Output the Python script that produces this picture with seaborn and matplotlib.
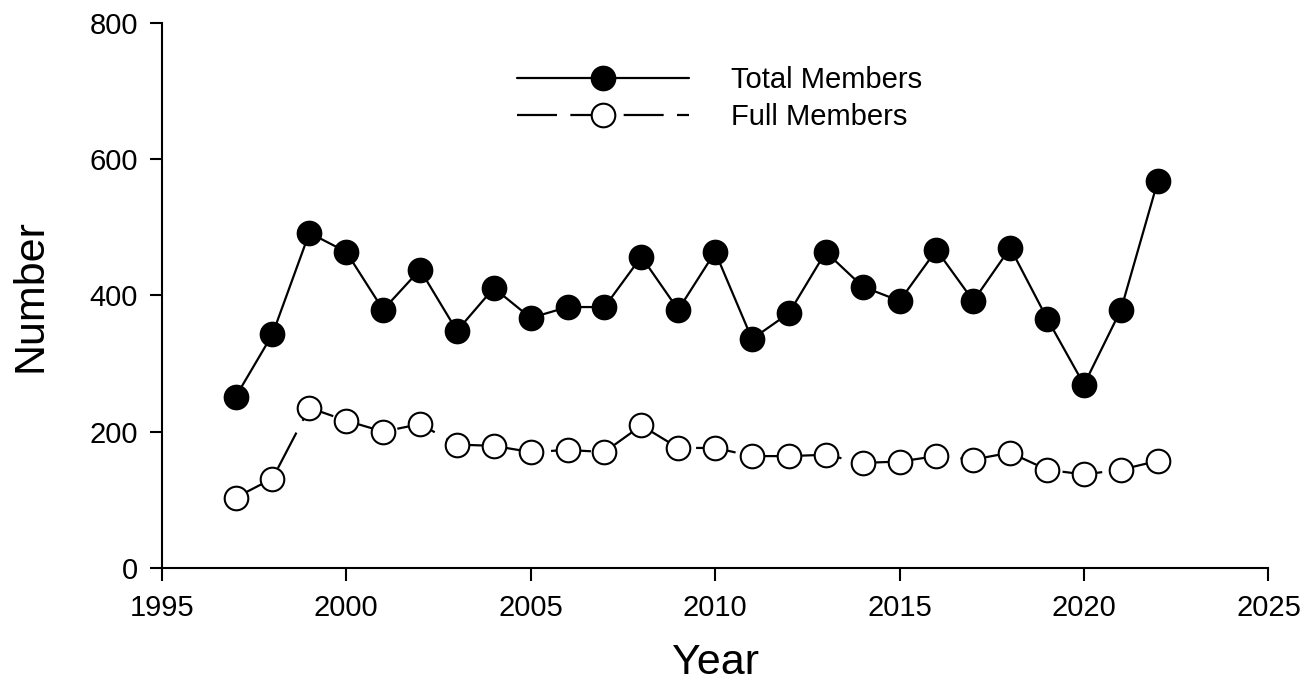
import pandas as pd
import matplotlib.pyplot as plt
import seaborn as sns

sns.set_theme(style="ticks")
plt.rcParams['font.family'] = ['Liberation Sans', 'DejaVu Sans']
plt.rcParams['text.color'] = 'black'
plt.rcParams['axes.labelcolor'] = 'black'

# dados
anos = list(range(1997, 2023))
total_membros = [251, 343, 492, 464, 379, 438, 348, 411, 367, 383, 383, 457, 379,
                 464, 336, 374, 464, 413, 392, 467, 392, 470, 366, 269, 379, 568]
membros_plenos = [103, 131, 235, 216, 200, 211, 181, 179, 170, 173, 170, 209, 176,
                  176, 164, 164, 166, 154, 156, 164, 159, 169, 144, 137, 144, 157]

df = pd.DataFrame({'Year': anos, 'Total Members': total_membros,
                   'Full Members': membros_plenos})

fig = plt.figure(figsize=(13.05, 6.84), dpi=100)
ax = fig.add_axes([0.124, 0.170, 0.848, 0.796])

sns.lineplot(data=df, x='Year', y='Total Members', ax=ax, color='black',
             linewidth=1.6, marker='o', markersize=17, markerfacecolor='black',
             markeredgecolor='black', markeredgewidth=1.5, label='Total Members')
sns.lineplot(data=df, x='Year', y='Full Members', ax=ax, color='black',
             linewidth=1.6, linestyle=(0, (18, 6)), marker='o', markersize=17,
             markerfacecolor='white', markeredgecolor='black',
             markeredgewidth=1.5, label='Full Members')

ax.set_xlim(1995, 2025)
ax.set_ylim(0, 800)
ax.set_xticks(range(1995, 2026, 5))
ax.set_yticks(range(0, 801, 200))
ax.tick_params(direction='out', length=9, width=1.5, labelsize=21, colors='black')
ax.tick_params(axis='x', pad=10)
ax.tick_params(axis='y', pad=8)
for s in ['top', 'right']:
    ax.spines[s].set_visible(False)
for s in ['left', 'bottom']:
    ax.spines[s].set_linewidth(1.5)
    ax.spines[s].set_color('black')

ax.set_xlabel('Year', fontsize=31, labelpad=15)
ax.set_ylabel('Number', fontsize=31, labelpad=28)

ax.legend(loc='upper left', bbox_to_anchor=(0.396, 1 - 66 / 684),
          bbox_transform=fig.transFigure, frameon=False, fontsize=21,
          handlelength=5.9, handletextpad=1.45, labelspacing=0.3,
          borderpad=0, borderaxespad=0)

fig.savefig('out.png', dpi=100)
